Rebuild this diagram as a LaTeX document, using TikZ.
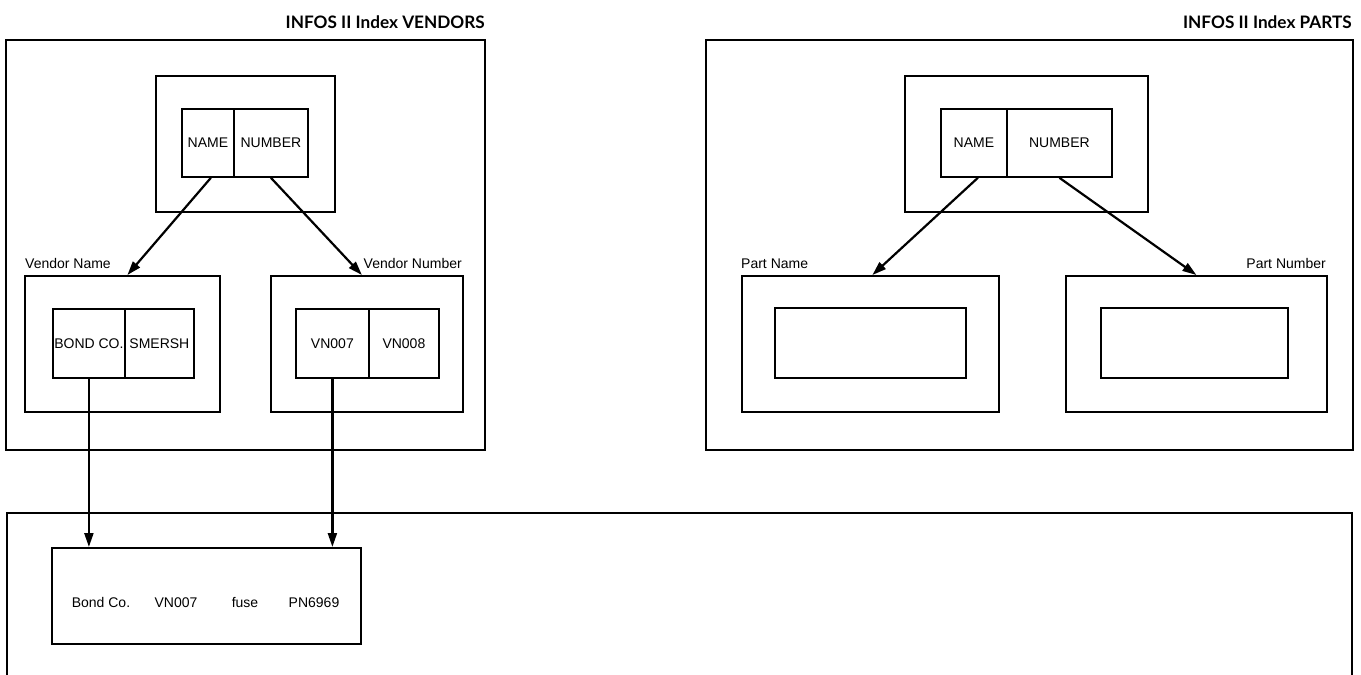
\documentclass[tikz,border=0pt]{standalone}
\usepackage{fontspec}
\setmainfont{Liberation Sans}
\newfontfamily\titlefont{Lato}
\usetikzlibrary{arrows.meta,calc}
\begin{document}
\begin{tikzpicture}[x=1pt,y=-1pt,
  box/.style={draw, line width=1.8pt, inner sep=0pt, anchor=north west, font=\fontsize{14}{16}\selectfont},
  arr/.style={line width=2.2pt, -{Triangle[length=14pt,width=9pt]}},
  lbl/.style={font=\fontsize{14}{16}\selectfont, inner sep=0pt},
  ttl/.style={font=\titlefont\bfseries\fontsize{17.2}{20}\selectfont, inner sep=0pt, anchor=base east}]
\useasboundingbox (0,0) rectangle (1361,675);

% titles
\node[ttl] (tv) at (485,28) {INFOS II Index VENDORS};
\node[ttl] (tp) at (1352,28) {INFOS II Index PARTS};

% ---- VENDORS panel
\node[box, minimum width=479pt, minimum height=410pt] (vpanel) at (5,39) {};
\node[box, minimum width=179pt, minimum height=136pt] (vtop) at (155,75) {};
\node[box, minimum width=52pt, minimum height=68pt] (vname) at (181,108) {NAME};
\node[box, minimum width=74pt, minimum height=68pt] (vnum) at (233,108) {NUMBER};

\node[box, minimum width=195pt, minimum height=136pt] (vnb) at (24,275) {};
\node[box, minimum width=72pt, minimum height=69pt] (bond) at (52,308) {BOND CO.};
\node[box, minimum width=69pt, minimum height=69pt] (smersh) at (124,308) {SMERSH};
\node[lbl, anchor=base west] (vnl) at (25,268) {Vendor Name};

\node[box, minimum width=192pt, minimum height=136pt] (vnumb) at (270,275) {};
\node[box, minimum width=73pt, minimum height=69pt] (vn7) at (295,308) {VN007};
\node[box, minimum width=70pt, minimum height=69pt] (vn8) at (368,308) {VN008};
\node[lbl, anchor=base east] (vnuml) at (462,268) {Vendor Number};

\draw[arr] ([xshift=3pt]vname.south) -- ([xshift=5pt]vnb.north);
\draw[arr] (vnum.south) -- ([xshift=-5pt]vnumb.north);

% ---- PARTS panel
\node[box, minimum width=647pt, minimum height=410pt] (ppanel) at (705,39) {};
\node[box, minimum width=243pt, minimum height=136pt] (ptop) at (904,75) {};
\node[box, minimum width=66pt, minimum height=68pt] (pname) at (940,108) {NAME};
\node[box, minimum width=105pt, minimum height=68pt] (pnum) at (1006,108) {NUMBER};

\node[box, minimum width=257pt, minimum height=136pt] (pnb) at (741,275) {};
\node[box, minimum width=191pt, minimum height=70pt] (pnbi) at (774,307) {};
\node[lbl, anchor=base west] (pnl) at (741,268) {Part Name};

\node[box, minimum width=261pt, minimum height=136pt] (pnumb) at (1065,275) {};
\node[box, minimum width=187pt, minimum height=70pt] (pnumbi) at (1100,307) {};
\node[lbl, anchor=base east] (pnuml) at (1326,268) {Part Number};

\draw[arr] ([xshift=4pt]pname.south) -- ([xshift=2pt]pnb.north);
\draw[arr] (pnum.south) -- (pnumb.north);

% ---- bottom data area
\draw[line width=1.8pt] (7,675) -- (7,513) -- (1352,513) -- (1352,675);
\node[box, minimum width=309pt, minimum height=96pt] (rec) at (51,547) {};
\node[lbl, anchor=base] (r1) at (101,607) {Bond Co.};
\node[lbl, anchor=base] (r2) at (176,607) {VN007};
\node[lbl, anchor=base] (r3) at (245,607) {fuse};
\node[lbl, anchor=base] (r4) at (314,607) {PN6969};

\draw[arr] (bond.south) -- (rec.north -| bond.south);
\draw[arr] (vn7.south) -- (rec.north -| vn7.south);
\end{tikzpicture}
\end{document}
